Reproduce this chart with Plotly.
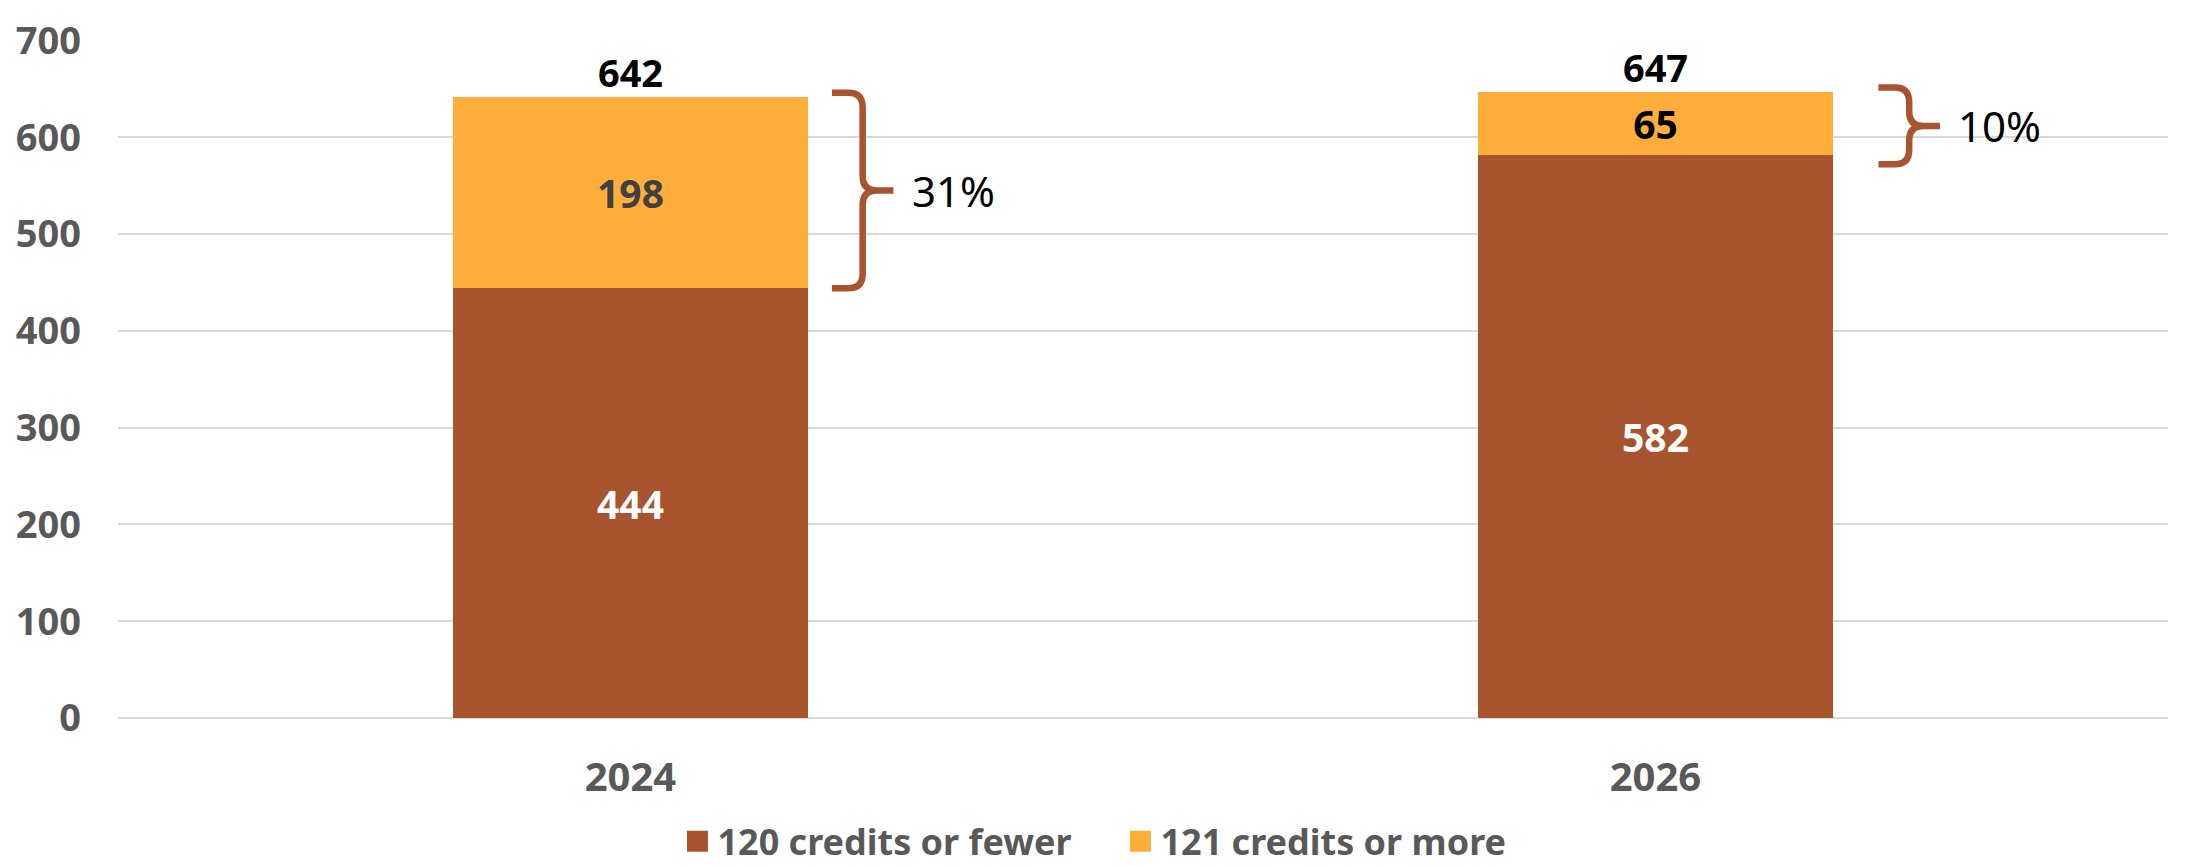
import plotly.graph_objects as go

# ---- data ----
years = ["2024", "2026"]
credits_120_or_fewer = [444, 582]
credits_121_or_more = [198, 65]
series_names = ["120 credits or fewer", "121 credits or more"]
y_ticks = [0, 100, 200, 300, 400, 500, 600, 700]

# ---- style ----
BROWN = "#A8552F"
ORANGE = "#FFAE3C"
TICK_COLOR = "#595959"
FONT = "Noto Sans, Open Sans, DejaVu Sans, sans-serif"
BAR_WIDTH = 0.347
brace_gap = [0.023, 0.044]       # gap between bar edge and brace (x units)
brace_pad_lo = [0, 10]           # extension below bracketed segment
brace_pad_hi = [4, 4.5]          # extension above bracketed segment

xpos = list(range(len(years)))
totals = [a + b for a, b in zip(credits_120_or_fewer, credits_121_or_more)]
shares = [b / t for b, t in zip(credits_121_or_more, totals)]

fig = go.Figure()
fig.add_trace(go.Bar(
    x=xpos, y=credits_120_or_fewer, name=series_names[0],
    marker=dict(color=BROWN, line=dict(width=0)), width=BAR_WIDTH,
    text=[str(v) for v in credits_120_or_fewer], textposition="inside",
    insidetextanchor="middle", constraintext="none",
    textfont=dict(family=FONT, size=39, color="white", weight="bold"),
    showlegend=False, hoverinfo="skip",
))
fig.add_trace(go.Bar(
    x=xpos, y=credits_121_or_more, name=series_names[1],
    marker=dict(color=ORANGE, line=dict(width=0)), width=BAR_WIDTH,
    text=[str(v) for v in credits_121_or_more], textposition="inside",
    insidetextanchor="middle", constraintext="none",
    textfont=dict(family=FONT, size=39, color=["#404040", "#000000"], weight="bold"),
    showlegend=False, hoverinfo="skip",
))
# totals above the bars
fig.add_trace(go.Scatter(
    x=xpos, y=totals, mode="text", text=[str(t) for t in totals],
    textposition="top center",
    textfont=dict(family=FONT, size=38, color="#000000", weight="bold"),
    showlegend=False, hoverinfo="skip",
))
# legend proxies (larger swatches)
for nm, col in zip(series_names, [BROWN, ORANGE]):
    fig.add_trace(go.Scatter(
        x=[None], y=[None], mode="markers", name=nm,
        marker=dict(symbol="square", size=16, color=col, line=dict(color=col, width=5)),
    ))

# braces
rx, ry = 0.014, 15
for i in range(len(years)):
    x0 = xpos[i] + BAR_WIDTH / 2 + brace_gap[i]
    xv = x0 + 0.030
    xt = xv + 0.030
    ytop = totals[i] + brace_pad_hi[i]
    ybot = credits_120_or_fewer[i] - brace_pad_lo[i]
    ymid = (ytop + ybot) / 2
    r_y = min(ry, (ytop - ybot) / 4)
    path = (
        f"M {x0},{ytop} L {xv - rx},{ytop} Q {xv},{ytop} {xv},{ytop - r_y} "
        f"L {xv},{ymid + r_y} Q {xv},{ymid} {xv + rx},{ymid} L {xt},{ymid} "
        f"M {xv + rx},{ymid} Q {xv},{ymid} {xv},{ymid - r_y} "
        f"L {xv},{ybot + r_y} Q {xv},{ybot} {xv - rx},{ybot} L {x0},{ybot}"
    )
    fig.add_shape(type="path", path=path, xref="x", yref="y",
                  line=dict(color="#A8552F", width=6.5))
    fig.add_annotation(x=xt + 0.016, y=ymid, xref="x", yref="y",
                       text=f"{round(shares[i] * 100)}%", showarrow=False,
                       xanchor="left", yanchor="middle",
                       font=dict(family=FONT, size=42, color="#000000"))

fig.update_layout(
    width=2186, height=866,
    barmode="stack",
    paper_bgcolor="white", plot_bgcolor="white",
    margin=dict(l=110, r=26, t=32, b=156, autoexpand=False),
    font=dict(family=FONT),
    legend=dict(orientation="h", x=0.489, xanchor="center", y=-0.182, yanchor="middle",
                traceorder="normal",
                font=dict(family=FONT, size=36, color=TICK_COLOR, weight="bold"),
                itemwidth=30, entrywidth=398, entrywidthmode="pixels",
                bgcolor="rgba(0,0,0,0)"),
    xaxis=dict(
        range=[-0.5, 1.5], tickvals=xpos, ticktext=years,
        showgrid=False, zeroline=False, showline=False, ticks="",
        tickfont=dict(family=FONT, size=40, color=TICK_COLOR, weight="bold"),
        ticklabelstandoff=32,
    ),
    yaxis=dict(
        range=[0, 700.5], tickvals=y_ticks,
        showgrid=True, gridcolor="#D9D9D9", gridwidth=2,
        zeroline=True, zerolinecolor="#D9D9D9", zerolinewidth=2,
        showline=False, ticks="", ticklabeloverflow="allow",
        tickfont=dict(family=FONT, size=38, color=TICK_COLOR, weight="bold"),
        ticklabelstandoff=36,
    ),
)

fig.write_html("out.html")
